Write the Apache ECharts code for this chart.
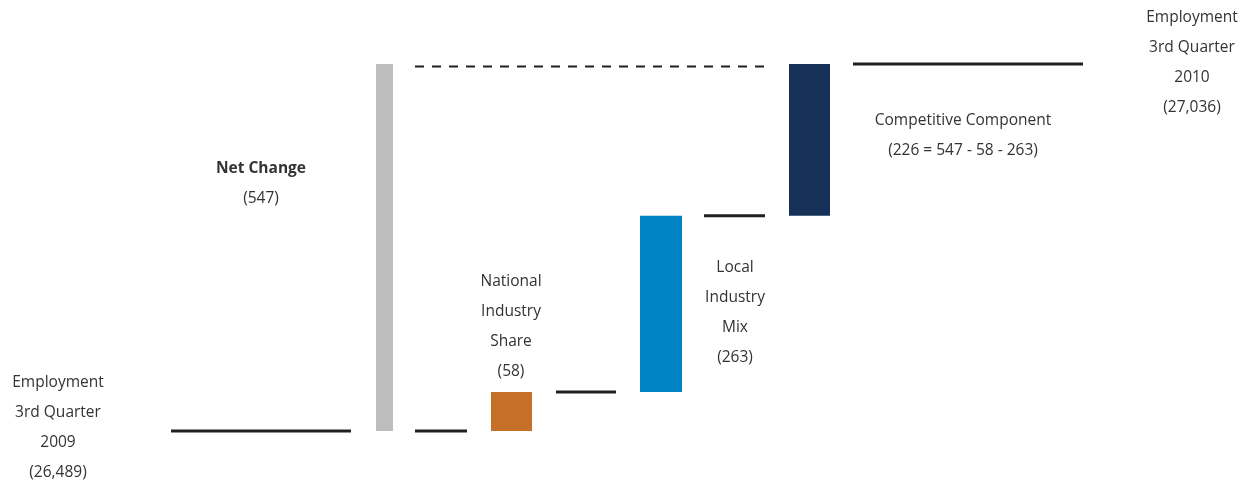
<!DOCTYPE html>
<html><head><meta charset="utf-8">
<script src="https://cdn.jsdelivr.net/npm/echarts@6/dist/echarts.min.js"></script>
<style>html,body{margin:0;padding:0;background:#fff}#c{width:1244px;height:483px}</style>
</head><body><div id="c"></div>
<script>
// ---- data ----
const startLabel = ['Employment', '3rd Quarter', '2009', '(26,489)'];
const endLabel = ['Employment', '3rd Quarter', '2010', '(27,036)'];
const startValue = 26489;
const endValue = 27036;
const netChange = 547;
const netLabel = ['Net Change', '(547)'];
const componentLabels = [
  ['National', 'Industry', 'Share', '(58)'],
  ['Local', 'Industry', 'Mix', '(263)'],
  ['Competitive Component', '(226 = 547 - 58 - 263)']
];
const componentValues = [58, 263, 226];

// ---- layout (pixel positions on a hidden 0..1244 x axis) ----
const W = 1244;
const startLineX = [171, 351];
const netBarX = [376, 393];
const dashedX = [415, 766];
const connectorX = [[415, 467], [556, 616], [704, 765]];
const componentBarX = [[491, 532], [640, 682], [789, 830]];
const endLineX = [853, 1083];
const componentColors = ['#C66F29', '#0084C6', '#163157'];
const lineColor = '#231F20';

// ---- shapes built from data ----
const shapes = [];
shapes.push({kind: 'line', x: startLineX, y: [startValue, startValue]});
shapes.push({kind: 'bar', x: netBarX, y: [startValue, startValue + netChange], color: '#BDBDBF'});
shapes.push({kind: 'dash', x: dashedX, y: [startValue + netChange, startValue + netChange]});
let level = startValue;
componentValues.forEach((v, i) => {
  shapes.push({kind: 'line', x: connectorX[i], y: [level, level]});
  shapes.push({kind: 'bar', x: componentBarX[i], y: [level, level + v], color: componentColors[i]});
  level += v;
});
shapes.push({kind: 'line', x: endLineX, y: [endValue, endValue]});

const chart = echarts.init(document.getElementById('c'));
const font = '"Open Sans", "Noto Sans", sans-serif';
const textColor = '#333333';
function block(lines, cx, y0, step, boldFirst) {
  return lines.map((t, i) => ({
    type: 'text', x: cx, y: y0 + i * step, silent: true,
    style: {text: t, align: 'center', verticalAlign: 'middle',
      font: (boldFirst && i === 0 ? 'bold ' : '') + '15.5px ' + font, fill: textColor}
  }));
}
const graphics = [].concat(
  block(startLabel, 58, 383, 29.7, false),
  block(endLabel, 1192, 18, 29.7, false),
  block(netLabel, 261, 169, 29.5, true),
  block(componentLabels[0], 511, 282, 29.7, false),
  block(componentLabels[1], 735, 268, 29.7, false),
  block(componentLabels[2], 963, 121, 30, false)
);

chart.setOption({
  animation: false,
  grid: {left: 0, right: 0, top: 64, bottom: 52},
  xAxis: {type: 'value', min: 0, max: W, show: false},
  yAxis: {type: 'value', min: startValue, max: endValue, show: false},
  graphic: graphics,
  series: [{
    type: 'custom',
    clip: false,
    data: shapes.map(s => [s.y[0], s.y[1]]),
    renderItem: function (params, api) {
      const s = shapes[params.dataIndex];
      const p0 = api.coord([s.x[0], api.value(0)]);
      const p1 = api.coord([s.x[1], api.value(1)]);
      if (s.kind === 'bar') {
        return {type: 'rect',
          shape: {x: p0[0], y: p1[1], width: p1[0] - p0[0], height: p0[1] - p1[1]},
          style: {fill: s.color}};
      }
      const dashed = s.kind === 'dash';
      return {type: 'line',
        shape: {x1: p0[0], y1: p0[1] + (dashed ? 2.5 : 0), x2: p1[0], y2: p1[1] + (dashed ? 2.5 : 0)},
        style: {stroke: lineColor, lineWidth: dashed ? 2 : 3, lineDash: dashed ? [9, 8] : null}};
    }
  }]
});
</script></body></html>
